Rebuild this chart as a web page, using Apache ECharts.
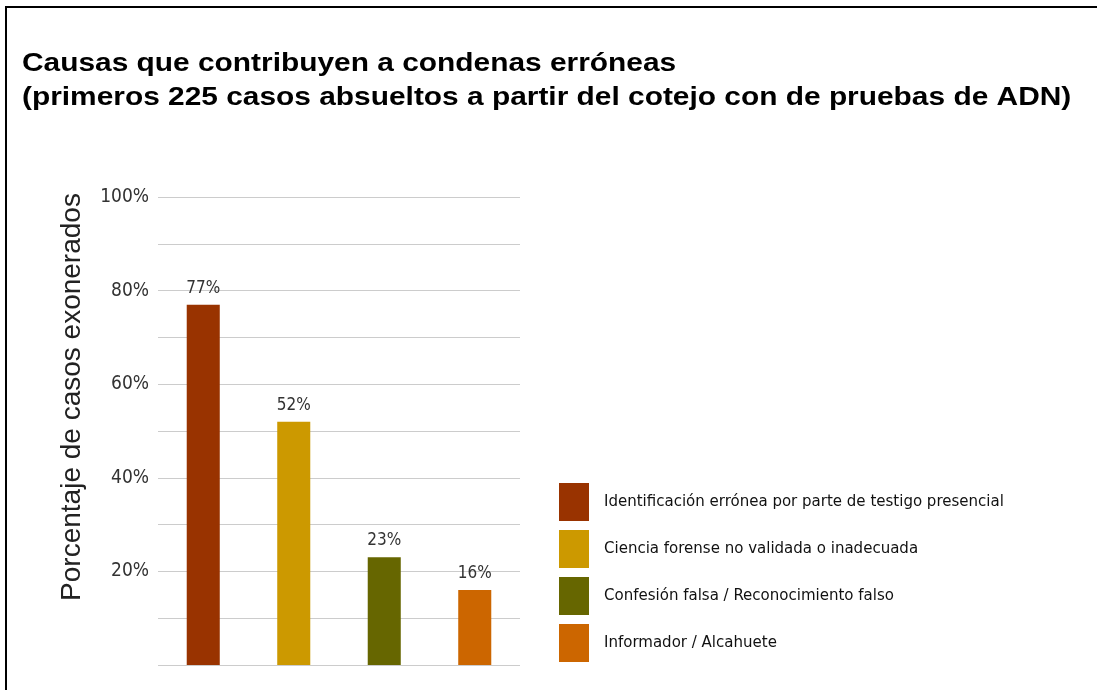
<!DOCTYPE html>
<html>
<head>
<meta charset="utf-8">
<script src="https://cdn.jsdelivr.net/npm/echarts@6/dist/echarts.min.js"></script>
<style>
html,body{margin:0;padding:0;background:#fff;}
#chart{width:1097px;height:690px;}
</style>
</head>
<body>
<div id="chart"></div>
<script>
const titleLines = ["Causas que contribuyen a condenas erróneas", "(primeros 225 casos absueltos a partir del cotejo con de pruebas de ADN)"];
const yAxisTitle = "Porcentaje de casos exonerados";
const categories = ["Identificación errónea por parte de testigo presencial", "Ciencia forense no validada o inadecuada", "Confesión falsa / Reconocimiento falso", "Informador / Alcahuete"];
const values = [77, 52, 23, 16];
const colors = ["#993300", "#CC9900", "#666600", "#CC6600"];
const yTicks = [0, 10, 20, 30, 40, 50, 60, 70, 80, 90, 100];

const narrow = "'Liberation Sans Narrow', 'Arial Narrow', 'DejaVu Sans Condensed', sans-serif";

const chart = echarts.init(document.getElementById('chart'));
const series = categories.map((name, i) => ({
  name: name,
  type: 'bar',
  stack: 'all',
  barWidth: '36.5%',
  itemStyle: { color: colors[i] },
  label: {
    show: true, position: 'top', distance: 8,
    formatter: p => p.value + '%',
    fontFamily: narrow, fontSize: 17, color: '#333'
  },
  data: categories.map((c, j) => j === i ? values[i] : null)
}));

chart.setOption({
  animation: false,
  backgroundColor: '#fff',
  grid: { left: 158, top: 197, width: 362, height: 468, containLabel: false },
  xAxis: {
    type: 'category', data: categories,
    axisLine: { show: false }, axisTick: { show: false }, axisLabel: { show: false }
  },
  yAxis: {
    type: 'value', min: yTicks[0], max: yTicks[yTicks.length - 1], interval: 10,
    axisLine: { show: false }, axisTick: { show: false },
    splitLine: { lineStyle: { color: '#cccccc', width: 1 } },
    axisLabel: {
      margin: 9, fontFamily: narrow, fontSize: 19, color: '#333',
      formatter: v => (v > 0 && v % 20 === 0) ? v + '%' : ''
    }
  },
  legend: {
    orient: 'vertical', left: 559, top: 483, padding: 0,
    itemWidth: 30, itemHeight: 38, itemGap: 9, icon: 'rect',
    selectedMode: false,
    data: categories,
    textStyle: { fontFamily: narrow, fontSize: 16.7, color: '#111', padding: [0, 0, 0, 10] }
  },
  graphic: [
    { type: 'polyline', shape: { points: [[6, 700], [6, 7], [1110, 7]] }, style: { stroke: '#000', lineWidth: 2, fill: null } },
    { type: 'text', x: 22, y: 47, scaleX: 1.149, style: { text: titleLines.join('\n'), font: 'bold 26px "Liberation Sans", Arial, sans-serif', lineHeight: 34, fill: '#000' } },
    { type: 'text', x: 72, y: 397, rotation: Math.PI / 2, style: { text: yAxisTitle, font: '28px "Liberation Sans", Arial, sans-serif', fill: '#222', align: 'center', verticalAlign: 'middle' } }
  ],
  series: series
});
</script>
</body>
</html>
